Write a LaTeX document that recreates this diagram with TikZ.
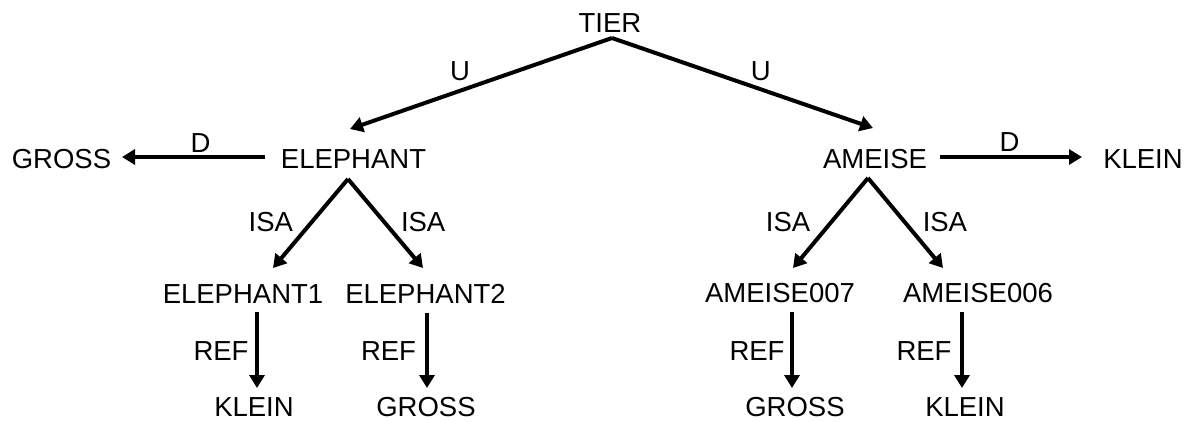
\documentclass[tikz,border=0pt]{standalone}
\usepackage{fontspec}
\setmainfont{Liberation Sans}
\usetikzlibrary{arrows.meta,positioning,calc}
\tikzset{
    concept/.style={
        inner sep=0pt,
        outer sep=0pt,
        font=\fontsize{27.5}{30}\selectfont
    },
    relation/.style={
        inner sep=0pt,
        font=\fontsize{27.5}{30}\selectfont
    },
    link/.style={
        draw,
        line width=4pt,
        -{Triangle[length=13pt,width=15pt]}
    },
}
\begin{document}
\begin{tikzpicture}[x=1pt, y=-1pt]
    \useasboundingbox (0,0) rectangle (1192,421);
    % blocks
    \node[concept] (tier) at (610,23) {TIER};
    \node[concept] (elephant) at (353.5,159) {ELEPHANT};
    \node[concept] (ameise) at (875,159) {AMEISE};
    \node[concept] (gross_e) at (61.5,159) {GROSS};
    \node[concept] (klein_a) at (1143,159) {KLEIN};
    \node[concept] (elephant1) at (243,294) {ELEPHANT1};
    \node[concept] (elephant2) at (425.5,294) {ELEPHANT2};
    \node[concept] (ameise007) at (780,293) {AMEISE007};
    \node[concept] (ameise006) at (978,293) {AMEISE006};
    \node[concept] (klein_e1) at (254,407) {KLEIN};
    \node[concept] (gross_e2) at (426,407) {GROSS};
    \node[concept] (gross_a7) at (795,407) {GROSS};
    \node[concept] (klein_a6) at (965,407) {KLEIN};

    % lines
    \draw[link] ($(tier)+(2,15)$) -- node[relation, pos=0.58, above=8pt] {U} ($(elephant)+(-3.5,-30)$);
    \draw[link] ($(tier)+(2,15)$) -- node[relation, pos=0.57, above=6.5pt] {U} ($(ameise)+(-2,-31)$);
    \draw[link] ($(elephant)+(-88.5,-2)$) -- node[relation, pos=0.45, above=3pt] {D} ($(gross_e)+(60.5,-2)$);
    \draw[link] ($(ameise)+(65,-2)$) -- node[relation, pos=0.49, above=4pt] {D} ($(klein_a)+(-61,-2)$);
    \draw[link] ($(elephant)+(-5.5,20)$) -- node[relation, pos=0.48, left=17pt] {ISA} ($(elephant1)+(30,-26)$);
    \draw[link] ($(elephant)+(-5.5,20)$) -- node[relation, pos=0.48, right=15pt] {ISA} ($(elephant2)+(-2.5,-26)$);
    \draw[link] ($(ameise)+(-7,19)$) -- node[relation, pos=0.49, left=19pt] {ISA} ($(ameise007)+(13,-25)$);
    \draw[link] ($(ameise)+(-7,19)$) -- node[relation, pos=0.49, right=16pt] {ISA} ($(ameise006)+(-35,-25)$);
    \draw[link] ($(elephant1)+(14,18)$) -- node[relation, pos=0.51, left=6.5pt] {REF} ($(klein_e1)+(3,-19)$);
    \draw[link] ($(elephant2)+(1.5,19)$) -- node[relation, pos=0.51, left=9pt] {REF} ($(gross_e2)+(1,-19)$);
    \draw[link] ($(ameise007)+(12,19)$) -- node[relation, pos=0.51, left=5.5pt] {REF} ($(gross_a7)+(-3,-19)$);
    \draw[link] ($(ameise006)+(-16,19)$) -- node[relation, pos=0.51, left=8.5pt] {REF} ($(klein_a6)+(-3,-19)$);
\end{tikzpicture}
\end{document}
